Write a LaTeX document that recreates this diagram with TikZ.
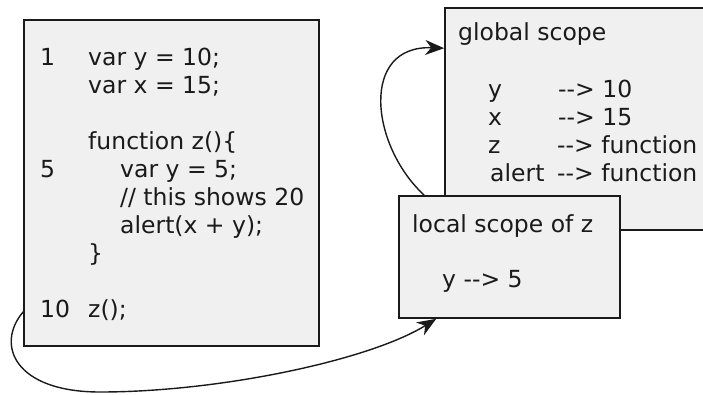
\documentclass[tikz,border=0pt]{standalone}
\usepackage{fontspec}
\setmainfont{DejaVu Sans}
\usetikzlibrary{arrows.meta}
\definecolor{boxfill}{HTML}{F0F0F0}
\definecolor{ink}{HTML}{1A1A1A}

\begin{document}
\begin{tikzpicture}[x=1pt,y=-1pt,
  scopebox/.style={draw=ink, line width=1.6pt, fill=boxfill, inner sep=0pt},
  txt/.style={anchor=base west, inner sep=0pt, text=ink, font=\fontsize{23.5}{28}\selectfont},
  link/.style={draw=ink, line width=1.4pt, -{Stealth[length=19pt,width=15pt,inset=6pt]}}]
\useasboundingbox (0,0) rectangle (703,394);

% source code panel
\node[scopebox, minimum width=295pt, minimum height=326pt] (code) at (171.5,183) {};
\node[txt] (num1)  at (40,65)  {1};
\node[txt] (line1) at (88,65)  {var y = 10;};
\node[txt] (line2) at (88,93)  {var x = 15;};
\node[txt] (line4) at (88,149) {function z()\{};
\node[txt] (num5)  at (40,177) {5};
\node[txt] (line5) at (120,177) {var y = 5;};
\node[txt] (line6) at (120,205) {// this shows 20};
\node[txt] (line7) at (120,233) {alert(x + y);};
\node[txt] (line8) at (88,261) {\}};
\node[txt] (num10) at (40,317) {10};
\node[txt] (line10) at (88,317) {z();};

% global scope table
\node[scopebox, minimum width=270pt, minimum height=222pt] (global) at (580,119) {};
\node[txt] (gtitle) at (458,40) {global scope};
\node[txt] (gy)  at (488,97)  {y};
\node[txt] (gyv) at (558,97)  {-{}-> 10};
\node[txt] (gx)  at (488,125) {x};
\node[txt] (gxv) at (558,125) {-{}-> 15};
\node[txt] (gz)  at (488,153) {z};
\node[txt] (gzv) at (557,153) {-{}-> function};
\node[txt] (ga)  at (490,181) {alert};
\node[txt] (gav) at (557,181) {-{}-> function};

% local scope table
\node[scopebox, minimum width=221pt, minimum height=122pt] (local) at (509.5,257) {};
\node[txt] (ltitle) at (412,232) {local scope of z};
\node[txt] (ly) at (442,287) {y -{}-> 5};

% scope chain: local scope refers to the global scope
\draw[link] ([xshift=26pt]local.north west) .. controls (370,145) and (360,45) .. ([yshift=-41pt]global.north west);

% the call z() creates the local scope
\draw[link] ([yshift=35pt]code.south west) .. controls (-5,345) and (15,392) .. (100,392)
  .. controls (220,392) and (370,360) .. ([xshift=38pt]local.south west);
\end{tikzpicture}
\end{document}
